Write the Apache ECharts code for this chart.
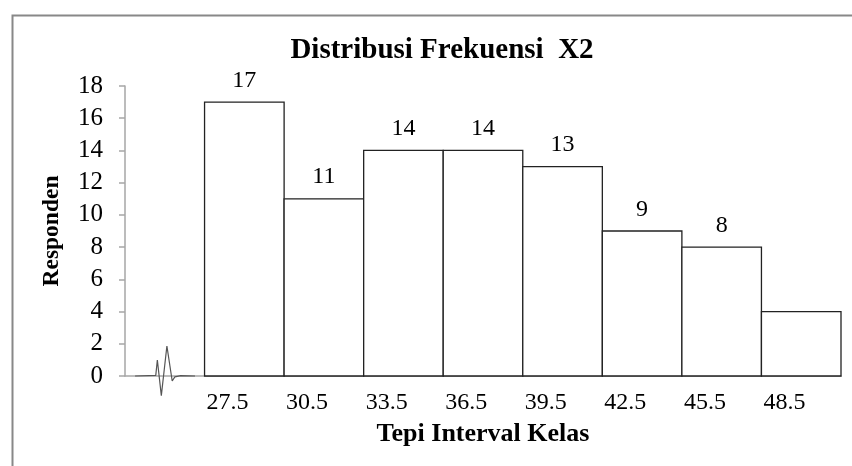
<!DOCTYPE html>
<html>
<head>
<meta charset="utf-8">
<script src="https://cdn.jsdelivr.net/npm/echarts@6/dist/echarts.min.js"></script>
<style>html,body{margin:0;padding:0;background:#fff;}#c{width:852px;height:466px;}</style>
</head>
<body>
<div id="c"></div>
<script>
// Class lower edges (Tepi Interval Kelas), class width and frequencies
var lowerEdges = [27.5, 30.5, 33.5, 36.5, 39.5, 42.5, 45.5, 48.5];
var classWidth = 3;
var counts = [17, 11, 14, 14, 13, 9, 8, 4];
var dataLabels = ['17', '11', '14', '14', '13', '9', '8', ''];
var xTickLabels = [27.5, 30.5, 33.5, 36.5, 39.5, 42.5, 45.5, 48.5];
var yTicks = [0, 2, 4, 6, 8, 10, 12, 14, 16, 18];
// axis-break squiggle drawn in data units before the first class
var breakX = [24.88, 25.66, 25.72, 25.87, 26.08, 26.28, 26.38, 26.6, 27.14];
var breakY = [0, 0.04, 0.99, -1.22, 1.86, -0.31, -0.05, 0.02, 0];

var serif = '"Liberation Serif","Times New Roman",serif';
var chart = echarts.init(document.getElementById('c'));

var barData = lowerEdges.map(function (e, i) { return [e, e + classWidth, counts[i]]; });
var breakData = breakX.map(function (x, i) { return [x, breakY[i]]; });

chart.setOption({
  animation: false,
  backgroundColor: '#fff',
  title: {
    text: 'Distribusi Frekuensi  X2',
    left: 437, top: 31, textAlign: 'center',
    textStyle: { fontFamily: serif, fontSize: 29, fontWeight: 'bold', color: '#000' }
  },
  graphic: [{
    type: 'rect', left: 10, top: 13, shape: { width: 900, height: 500 },
    style: { fill: 'none', stroke: '#888', lineWidth: 2 }, silent: true, z: 0
  }],
  grid: { left: 125, right: 11, top: 86, bottom: 90 },
  xAxis: {
    type: 'value', min: 24.5, max: 51.5,
    name: 'Tepi Interval Kelas', nameLocation: 'middle', nameGap: 45,
    nameTextStyle: { fontFamily: serif, fontSize: 26, fontWeight: 'bold', color: '#000' },
    axisLine: { show: true, lineStyle: { color: '#a6a6a6', width: 1.5 } },
    axisTick: { show: false },
    splitLine: { show: false },
    axisLabel: {
      customValues: xTickLabels, align: 'left', margin: 15,
      fontFamily: serif, fontSize: 24, color: '#000',
      formatter: function (v) { return v.toFixed(1); },
      padding: [0, 0, 0, 2]
    }
  },
  yAxis: {
    type: 'value', min: 0, max: 18, interval: 2,
    name: 'Responden', nameLocation: 'middle', nameGap: 61,
    nameTextStyle: { fontFamily: serif, fontSize: 23.5, fontWeight: 'bold', color: '#000' },
    axisLine: { show: true, lineStyle: { color: '#a6a6a6', width: 1.5 } },
    axisTick: { show: true, length: 6, lineStyle: { color: '#a6a6a6', width: 1.5 } },
    splitLine: { show: false },
    axisLabel: { margin: 22, fontFamily: serif, fontSize: 25, color: '#000',
      customValues: yTicks }
  },
  series: [{
    type: 'custom',
    data: barData,
    encode: { x: [0, 1], y: 2 },
    renderItem: function (params, api) {
      var p0 = api.coord([api.value(0), 0]);
      var p1 = api.coord([api.value(1), api.value(2)]);
      var lab = dataLabels[params.dataIndex];
      return {
        type: 'rect',
        shape: { x: p0[0], y: p1[1], width: p1[0] - p0[0], height: p0[1] - p1[1] },
        style: { fill: '#fff', stroke: '#222', lineWidth: 1.3 },
        textContent: lab ? { style: { text: lab, fontFamily: serif, fontSize: 24, fill: '#000' } } : undefined,
        textConfig: lab ? { position: 'top', distance: 9 } : undefined
      };
    },
    z: 3
  }, {
    type: 'line',
    data: breakData,
    showSymbol: false, symbol: 'none', clip: false,
    lineStyle: { color: '#555', width: 1.2 },
    z: 4, silent: true
  }]
});
</script>
</body>
</html>
